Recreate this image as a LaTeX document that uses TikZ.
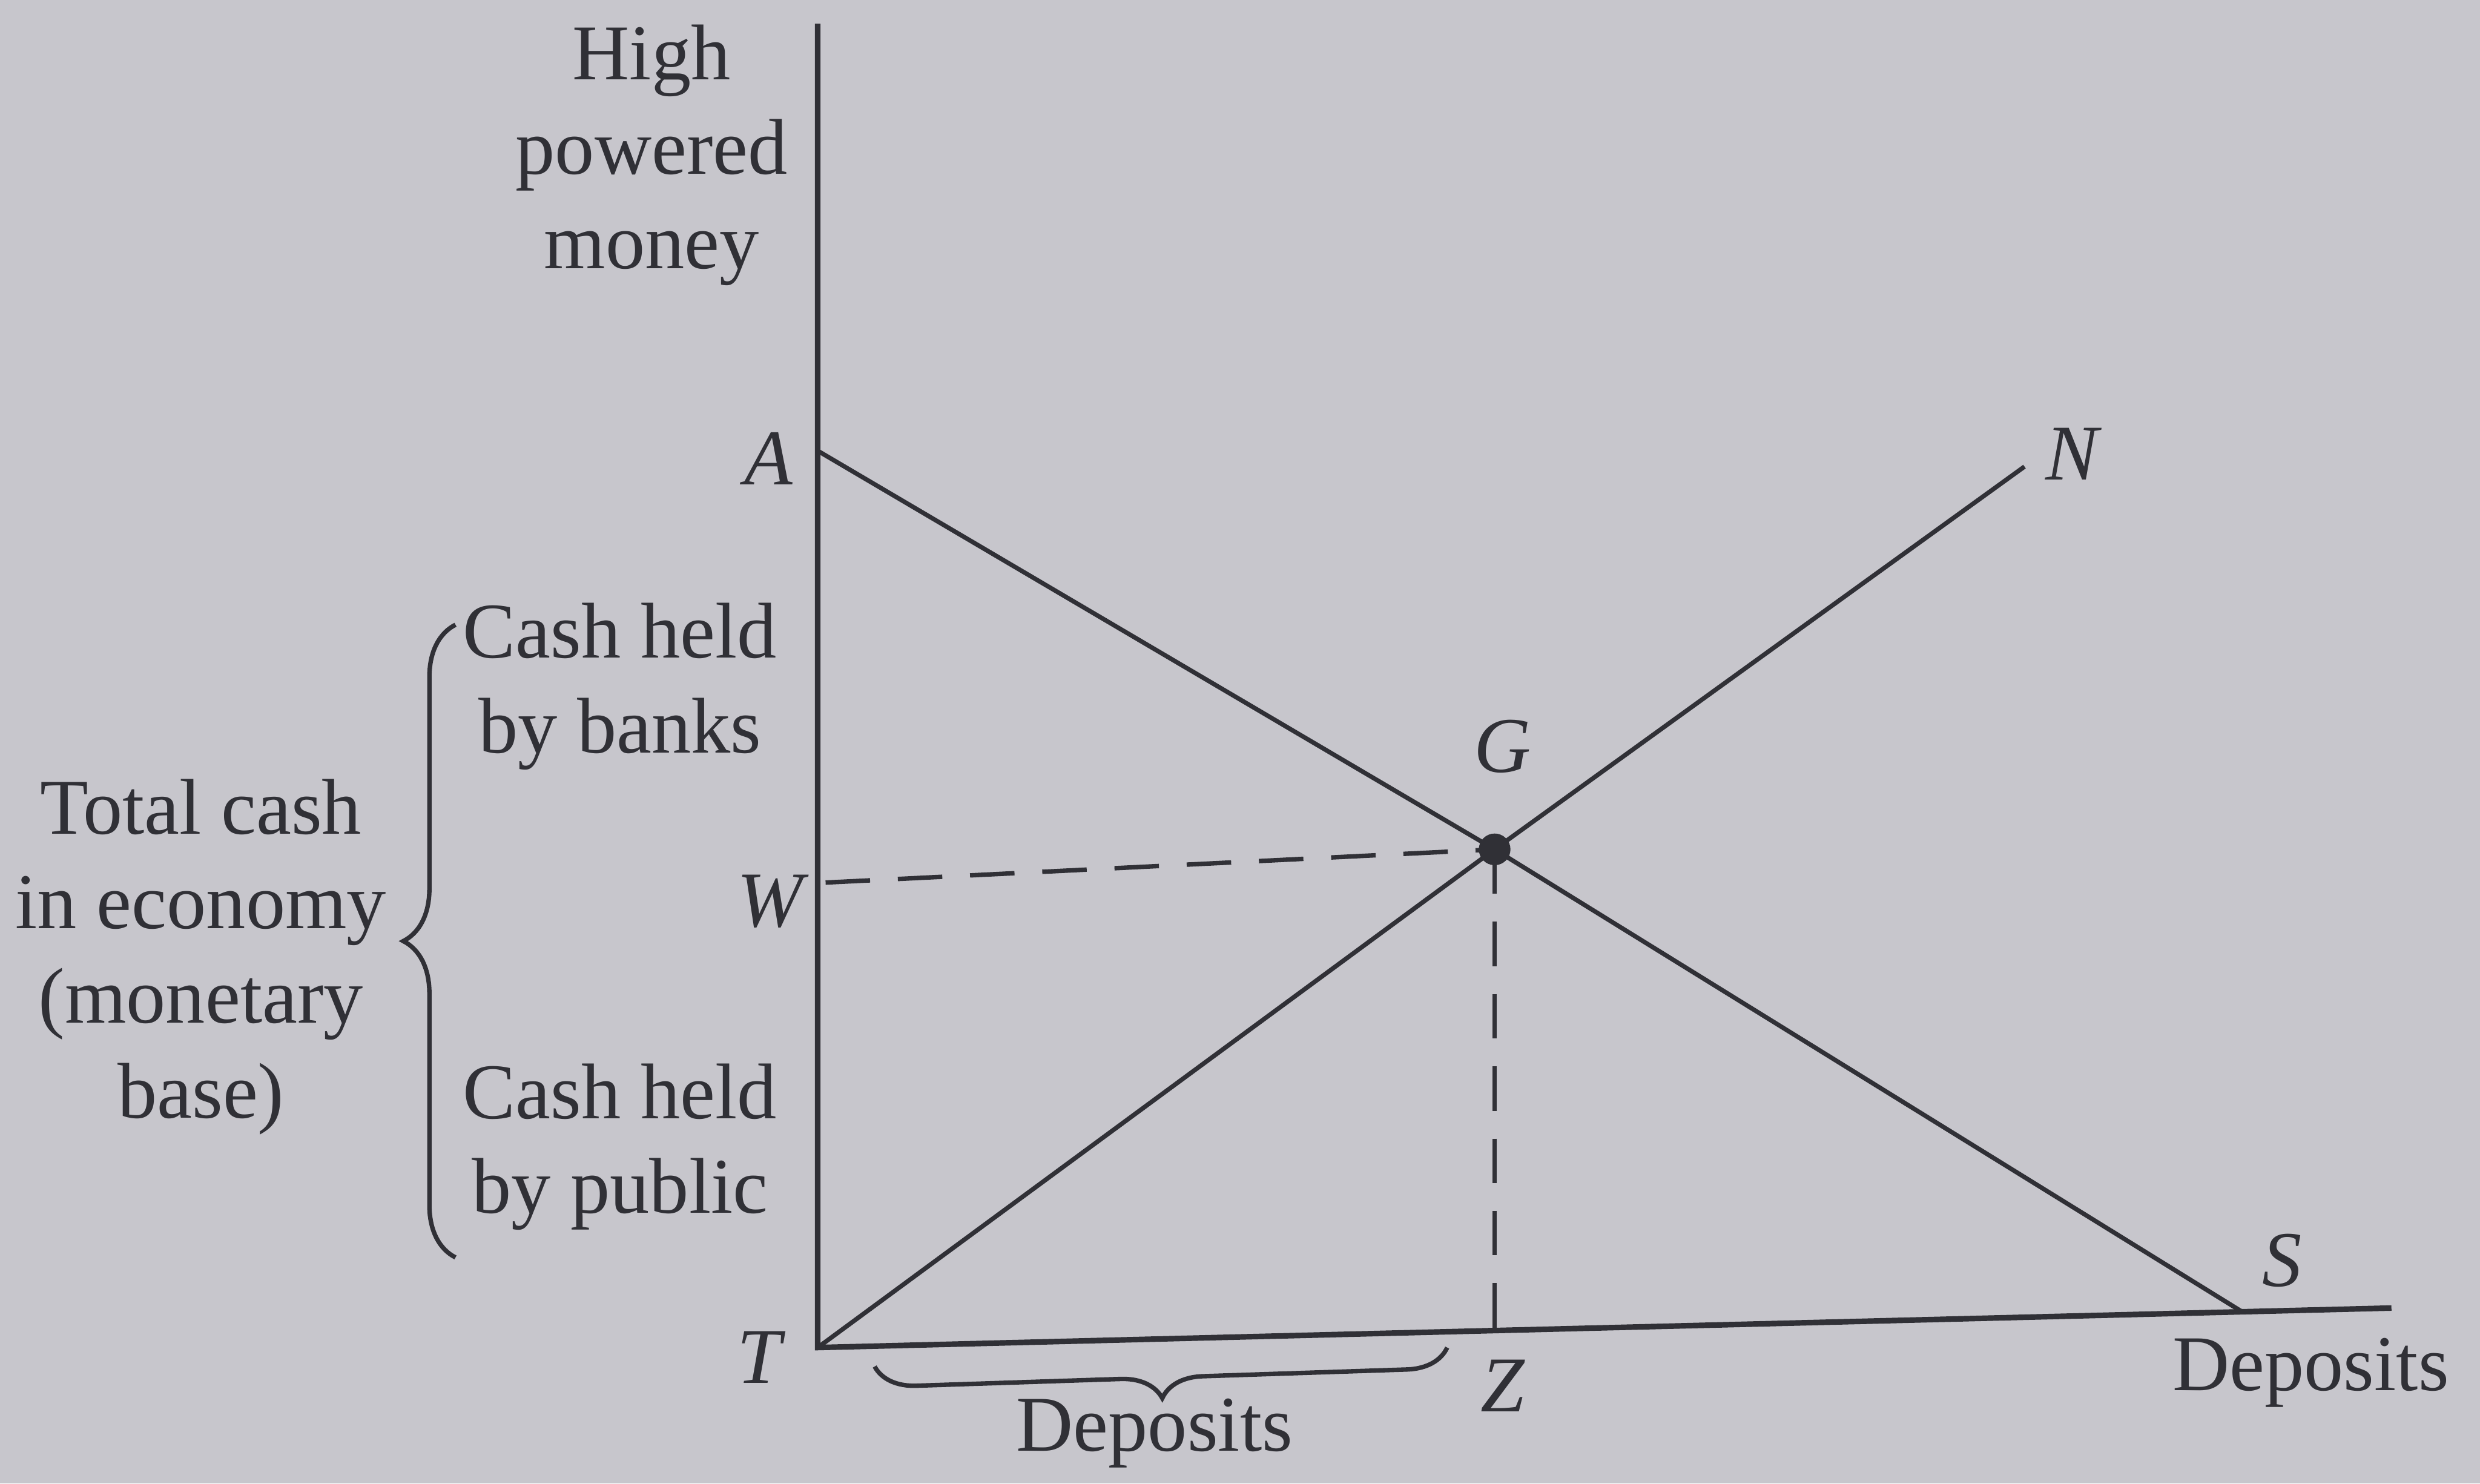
\documentclass[tikz,border=0pt]{standalone}
\usepackage{fontspec}
\setmainfont{Liberation Serif}
\usetikzlibrary{decorations.pathreplacing}
\definecolor{bg}{RGB}{199,198,204}
\definecolor{ink}{RGB}{48,48,54}
\begin{document}
\begin{tikzpicture}[x=0.01cm,y=-0.01cm,
  lbl/.style={text=ink,font=\fontsize{14.2}{17}\selectfont\itshape,inner sep=0pt},
  txt/.style={text=ink,font=\fontsize{14.2}{17}\selectfont,inner sep=0pt,align=center},
  ln/.style={draw=ink,line width=0.8pt},
  ax/.style={draw=ink,line width=1pt},
  dsh/.style={draw=ink,line width=0.8pt,dash pattern=on 8pt off 5pt},
  brc/.style={draw=ink,line width=0.8pt,decorate,decoration={brace,amplitude=#1}}]
\fill[bg] (0,0) rectangle (1568,938);
\useasboundingbox (0,0) rectangle (1568,938);

% coordinates
\coordinate (top) at (517,15);
\coordinate (T) at (517,852);
\coordinate (xend) at (1512,827);
\coordinate (A) at (517,285);
\coordinate (G) at (945,537);
\coordinate (S) at (1417,829);
\coordinate (N) at (1280,295);
\coordinate (Wp) at (522,558);
\coordinate (Zp) at (945,841);

% axes
\draw[ax] (top) -- (T) -- (xend);
% lines
\draw[ln] (A) -- (G) -- (S);
\draw[ln] (T) -- (G) -- (N);
% dashed guides
\draw[dsh] (Wp) -- (G);
\draw[dsh] (G) -- (Zp);
% point G
\fill[ink] (G) circle (0.1cm);

% braces
\draw[brc=0.33cm] (288,795) -- (288,395);
\draw[brc=0.26cm] (915,852) -- (553,864);

% labels
\node[lbl] (lA) at (486,290) {A};
\node[lbl] (lW) at (487,570) {W};
\node[lbl] (lT) at (480,858) {T};
\node[lbl] (lG) at (950,472) {G};
\node[lbl] (lN) at (1310,287) {N};
\node[lbl] (lS) at (1443,797) {S};
\node[lbl] (lZ) at (950,876) {Z};

\node[txt] (hpm) at (412,98) {High\\powered\\money};
\node[txt] (chb) at (392,434) {Cash held\\by banks};
\node[txt] (chp) at (392,725) {Cash held\\by public};
\node[txt] (tce) at (127,605) {Total cash\\in economy\\(monetary\\base)};
\node[txt] (dep1) at (730,906) {Deposits};
\node[txt] (dep2) at (1461,868) {Deposits};
\end{tikzpicture}
\end{document}
